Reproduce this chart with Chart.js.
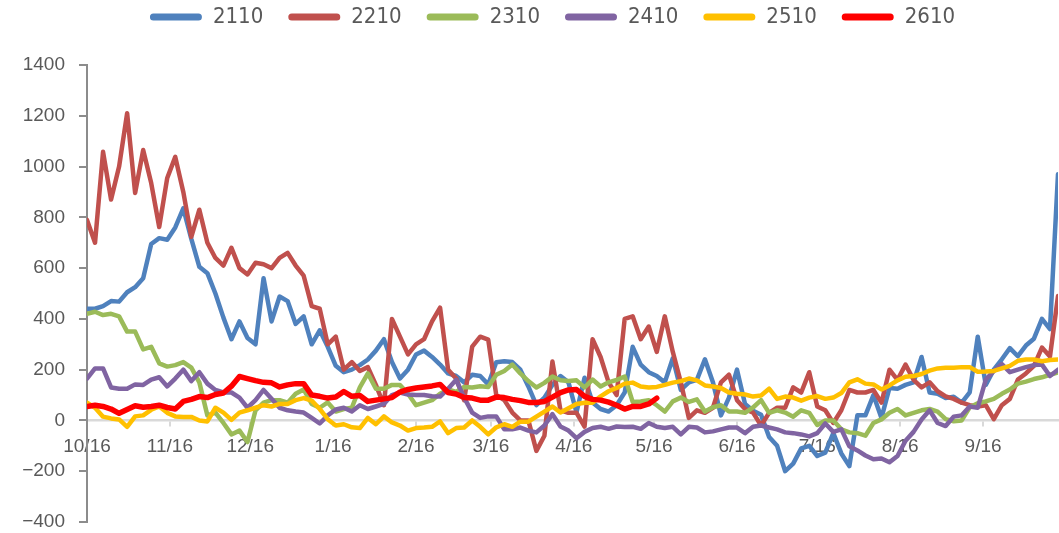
<!DOCTYPE html>
<html>
<head>
<meta charset="utf-8">
<script src="https://cdn.jsdelivr.net/npm/chart.js@4.4.1/dist/chart.umd.min.js"></script>
<style>
  html, body { margin: 0; padding: 0; background: #fff; }
  #wrap { width: 1059px; height: 533px; }
</style>
</head>
<body>
<div id="wrap"><canvas id="chart" width="1059" height="533"></canvas></div>
<script>
// contract names and Excel-like colours
const seriesNames = ['2110', '2210', '2310', '2410', '2510', '2610'];
const seriesColors = ['#4F81BD', '#C0504D', '#9BBB59', '#8064A2', '#FFC000', '#FF0000'];

// x is "days since 10/16", one value every 3 days
const dayStep = 3;
const lastDay = 363;
const monthDays = [0, 31, 61, 92, 123, 151, 182, 212, 243, 273, 304, 335];
const monthLabels = ['10/16', '11/16', '12/16', '1/16', '2/16', '3/16', '4/16', '5/16', '6/16', '7/16', '8/16', '9/16'];

const s2110 = [440, 440, 450, 470, 468, 505, 525, 560, 695, 718,
  712, 760, 835, 715, 605, 580, 500, 405, 320, 390,
  325, 300, 560, 390, 488, 470, 380, 410, 300, 355,
  290, 215, 190, 200, 218, 240, 275, 320, 230, 165,
  200, 260, 275, 250, 220, 185, 175, 150, 180, 175,
  142, 229, 233, 230, 200, 134, 60, 90, 140, 175,
  150, 32, 168, 71, 45, 35, 60, 110, 290, 220,
  190, 175, 150, 245, 120, 150, 160, 241, 150, 20,
  90, 200, 65, 38, 22, -65, -100, -200, -170, -110,
  -100, -140, -127, -50, -130, -180, 20, 20, 100, 10,
  128, 125, 140, 150, 250, 110, 105, 88, 93, 70,
  111, 330, 140, 200, 241, 285, 253, 295, 322, 400,
  360, 970];

const s2210 = [790, 700, 1058, 870, 1000, 1210, 896, 1065, 935, 762,
  955, 1038, 900, 723, 830, 700, 640, 610, 680, 600,
  575, 621, 615, 600, 640, 660, 610, 570, 450, 440,
  300, 330, 200, 230, 195, 210, 140, 60, 400, 330,
  260, 300, 320, 390, 444, 200, 165, 80, 291, 330,
  318, 100, 80, 31, 0, 0, -120, -60, 232, 40,
  30, 30, -24, 320, 250, 150, 100, 400, 410, 320,
  370, 270, 410, 270, 150, 10, 40, 30, 50, 150,
  180, 80, 45, 31, -20, 30, 50, 50, 130, 110,
  190, 55, 40, -10, 40, 120, 110, 110, 120, 70,
  200, 160, 220, 160, 130, 150, 115, 95, 85, 70,
  60, 55, 60, 5, 60, 85, 161, 185, 215, 287,
  252, 490];

const s2310 = [420, 428, 415, 420, 410, 350, 350, 280, 290, 225,
  212, 218, 230, 208, 150, 20, 31, -10, -55, -40,
  -85, 40, 70, 80, 80, 70, 105, 122, 65, 50,
  71, 35, 45, 50, 130, 185, 125, 125, 140, 140,
  105, 60, 70, 80, 105, 122, 112, 132, 130, 135,
  132, 180, 195, 220, 185, 155, 130, 148, 173, 158,
  155, 158, 130, 161, 134, 150, 160, 173, 73, 75,
  80, 60, 35, 75, 90, 73, 83, 35, 52, 60,
  35, 35, 30, 51, 80, 30, 40, 31, 15, 40,
  30, -18, 0, 0, -35, -47, -50, -60, -10, 4,
  30, 45, 20, 30, 40, 45, 35, 5, -3, 0,
  52, 68, 75, 85, 105, 122, 145, 153, 163, 170,
  180, 189];

const s2410 = [165, 205, 205, 130, 125, 125, 142, 140, 161, 170,
  134, 165, 200, 155, 190, 145, 120, 110, 110, 90,
  50, 80, 120, 85, 50, 40, 35, 31, 10, -12,
  20, 43, 50, 35, 60, 45, 55, 65, 100, 110,
  102, 100, 100, 95, 94, 125, 160, 90, 31, 10,
  16, 16, -35, -35, -28, -40, -47, -20, 25, -24,
  -40, -70, -45, -30, -25, -33, -24, -26, -25, -33,
  -10, -25, -30, -25, -55, -25, -28, -47, -43, -35,
  -28, -28, -50, -25, -20, -28, -35, -47, -50, -55,
  -63, -50, -12, -45, -35, -102, -118, -138, -153, -150,
  -165, -140, -80, -45, 4, 40, -10, -22, 15, 20,
  55, 50, 161, 195, 222, 190, 200, 210, 218, 220,
  175, 200];

const s2510 = [70, 50, 15, 8, 4, -25, 16, 20, 42, 55,
  30, 16, 14, 14, 0, -4, 50, 31, 2, 31,
  40, 50, 60, 55, 65, 65, 80, 88, 78, 45,
  5, -20, -15, -27, -30, 10, -15, 16, -8, -20,
  -40, -30, -28, -25, -4, -50, -30, -28, 0, -25,
  -55, -27, -15, -25, -5, -5, 15, 35, 55, 31,
  48, 65, 70, 70, 95, 115, 128, 145, 149, 134,
  130, 132, 140, 149, 155, 165, 158, 138, 134, 128,
  110, 105, 102, 94, 98, 125, 85, 94, 90, 78,
  90, 96, 85, 90, 108, 150, 162, 145, 142, 122,
  138, 158, 172, 175, 183, 196, 205, 208, 208, 210,
  210, 192, 193, 195, 205, 215, 235, 240, 240, 233,
  238, 240];

const s2610 = [55, 60, 55, 45, 28, 43, 58, 52, 55, 60,
  51, 45, 75, 83, 94, 90, 102, 108, 135, 173,
  165, 157, 150, 148, 132, 140, 145, 145, 100, 95,
  88, 92, 114, 95, 98, 75, 80, 85, 90, 112,
  122, 128, 132, 136, 142, 110, 104, 90, 88, 80,
  80, 92, 90, 83, 78, 71, 71, 75, 92, 110,
  120, 122, 95, 83, 80, 72, 60, 45, 55, 55,
  65, 88];

const seriesValues = [s2110, s2210, s2310, s2410, s2510, s2610];

const toPoints = (values) => values.map((v, i) => ({ x: i * dayStep, y: v }));

const tickFont = { family: "'Liberation Sans', Arial, sans-serif", size: 19 };
const textGray = '#595959';

// legend sits a bit right of centre and leaves a gap above the plot
const legendPlacement = {
  id: 'legendPlacement',
  beforeInit(chart) {
    const fit = chart.legend.fit;
    chart.legend.fit = function () {
      fit.call(this);
      this.height += 27;
    };
  },
  afterLayout(chart) {
    chart.legend.left += 47;
  }
};

const ctx = document.getElementById('chart').getContext('2d');
new Chart(ctx, {
  type: 'line',
  data: {
    datasets: seriesValues.map((vals, k) => ({
      label: seriesNames[k],
      data: toPoints(vals),
      borderColor: seriesColors[k],
      backgroundColor: seriesColors[k],
      borderWidth: k === 5 ? 5.5 : 4.5,
      borderJoinStyle: 'round',
      borderCapStyle: 'round',
      pointRadius: 0,
      tension: 0,
      fill: false,
      order: 5 - k
    }))
  },
  options: {
    responsive: false,
    animation: false,
    layout: { padding: { left: 0, right: 1, top: -19, bottom: 11 } },
    plugins: {
      tooltip: { enabled: false },
      legend: {
        position: 'top',
        labels: {
          boxWidth: 52,
          boxHeight: 7,
          useBorderRadius: true,
          borderRadius: 3.5,
          padding: 25,
          color: textGray,
          font: { family: "'DejaVu Sans Condensed', 'Liberation Sans', sans-serif", size: 22 },
          sort: (a, b) => a.datasetIndex - b.datasetIndex,
          generateLabels(chart) {
            return Chart.defaults.plugins.legend.labels.generateLabels(chart)
              .map(l => ({ ...l, lineWidth: 0 }));
          }
        }
      }
    },
    scales: {
      x: {
        type: 'linear',
        min: 0,
        max: lastDay,
        position: { y: 0 },
        border: { display: true, color: '#d9d9d9', width: 2.5 },
        grid: { drawOnChartArea: false, drawTicks: true, tickLength: 5, color: '#d9d9d9', lineWidth: 2 },
        afterBuildTicks(scale) {
          scale.ticks = monthDays.map(v => ({ value: v }));
        },
        ticks: {
          autoSkip: false,
          maxRotation: 0,
          padding: 10,
          color: textGray,
          font: tickFont,
          callback: (value) => monthLabels[monthDays.indexOf(value)]
        }
      },
      y: {
        min: -400,
        max: 1400,
        border: { display: true, color: '#8c8c8c', width: 2 },
        grid: { drawOnChartArea: false, drawTicks: true, tickLength: 8, color: '#8c8c8c', lineWidth: 2 },
        afterFit(scale) {
          scale.width = 87;
          // the bottom label only needs half its height below the plot
          scale.paddingBottom = 11;
        },
        ticks: {
          stepSize: 200,
          padding: 14,
          color: textGray,
          font: tickFont,
          callback: (v) => (v < 0 ? '\u2212' + Math.abs(v) : String(v))
        }
      }
    }
  },
  plugins: [legendPlacement]
});
</script>
</body>
</html>
